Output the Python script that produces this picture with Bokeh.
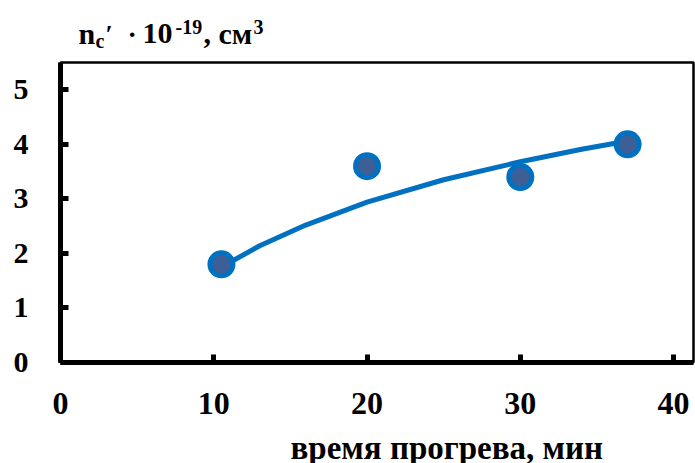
from bokeh.plotting import figure
from bokeh.models import Range1d, FixedTicker, Label
from bokeh.layouts import column
from bokeh.embed import file_html
from bokeh.resources import INLINE

# data
time_min = [10.5, 20, 30, 37]
n_c = [1.8, 3.6, 3.4, 4.0]
trend_x = [10.5, 13, 16, 20, 25, 30, 34, 37.2]
trend_y = [1.75, 2.14, 2.52, 2.94, 3.35, 3.68, 3.91, 4.07]
x_ticks = [0, 10, 20, 30, 40]
y_ticks = [0, 1, 2, 3, 4, 5]
y_title = [("n", 78, 40, 30), ("c", 95, 45, 20), ("\u2032", 105, 40, 26),
           ("\u00b7", 127, 40, 28), ("10", 142, 40, 30), ("-19", 175, 31, 20),
           (",", 203, 40, 30), ("см", 218, 40, 30), ("3", 253, 31, 20)]
x_title = "время прогрева, мин"

W = 695
H_TOP, H_MAIN, H_BOT = 50, 380, 33
FL, FR = 60, 693
FONT = "Liberation Serif"


def text_strip(h):
    f = figure(width=W, height=h, output_backend="svg", toolbar_location=None,
               title=None, x_axis_type=None, y_axis_type=None,
               x_range=Range1d(FL, FR), y_range=Range1d(h, 0),
               min_border_left=FL, min_border_right=W - FR,
               min_border_top=0, min_border_bottom=0)
    f.outline_line_color = None
    f.background_fill_color = "white"
    f.border_fill_color = "white"
    return f


def lab(f, text, x, base, size):
    # the strip draws text one descent lower than asked; correct for it
    f.add_layout(Label(x=x, y=base - 0.23 * size, text=text, text_font=FONT,
                       text_font_style="bold", text_font_size=f"{size}px",
                       text_color="black", text_baseline="alphabetic",
                       text_align="left"))


top = text_strip(H_TOP)
for t, x, b, s in y_title:
    lab(top, t, x, b, s)

p = figure(width=W, height=H_MAIN, output_backend="svg", toolbar_location=None,
           x_range=Range1d(0, 41.3), y_range=Range1d(0, 5.5),
           min_border_left=FL, min_border_right=W - FR, min_border_top=12,
           min_border_bottom=68)
p.grid.visible = False
p.outline_line_color = "black"
p.outline_line_width = 2.5
p.background_fill_color = "white"
p.border_fill_color = "white"

for ax, ticks in ((p.xaxis[0], x_ticks), (p.yaxis[0], y_ticks)):
    ax.ticker = FixedTicker(ticks=ticks)
    ax.axis_line_width = 5
    ax.axis_line_color = "black"
    ax.major_tick_in = 8
    ax.major_tick_out = 0
    ax.major_tick_line_width = 5
    ax.minor_tick_line_color = None
    ax.major_label_text_font = FONT
    ax.major_label_text_font_style = "bold"
    ax.major_label_text_color = "black"

p.xaxis.major_label_text_font_size = "32px"
p.yaxis.major_label_text_font_size = "30px"
p.xaxis.major_label_standoff = 30
p.yaxis.major_label_standoff = 32

p.line(trend_x, trend_y, line_color="#0070C0", line_width=5)
p.scatter(time_min, n_c, size=23, fill_color="#3D5F96",
          line_color="#0070C0", line_width=5)

bot = text_strip(H_BOT)
lab(bot, x_title, 290, 25, 33)

layout = column(top, p, bot, spacing=0)
open("out.html", "w").write(file_html(layout, INLINE))
